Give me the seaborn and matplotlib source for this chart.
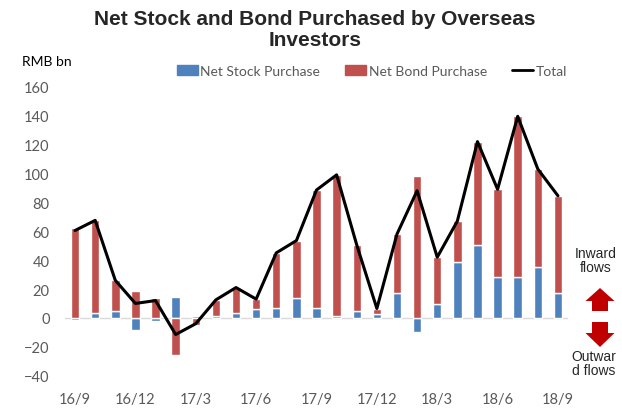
import numpy as np
import pandas as pd
import matplotlib.pyplot as plt
import seaborn as sns
from matplotlib.patches import Patch, Polygon
from matplotlib.lines import Line2D

# Monthly data, 16/9 to 18/9 (RMB bn)
months = ["16/9", "16/10", "16/11", "16/12", "17/1", "17/2", "17/3", "17/4", "17/5",
          "17/6", "17/7", "17/8", "17/9", "17/10", "17/11", "17/12", "18/1", "18/2",
          "18/3", "18/4", "18/5", "18/6", "18/7", "18/8", "18/9"]
tick_labels = ["16/9", "16/12", "17/3", "17/6", "17/9", "17/12", "18/3", "18/6", "18/9"]
stock = [-1.5, 3.5, 5, -8.5, -2, 14.5, 1, 1, 3.7, 6.5, 7, 13.5, 7, 1, 4.5, 3,
         17.5, -10, 9.5, 38.5, 50.5, 28.5, 28.5, 35.5, 17.5]
bond = [62, 64, 21.5, 18.5, 14, -26, -5, 11.5, 17, 6.5, 38, 40, 81.5, 98, 46, 3.5,
        40.5, 98, 32.5, 28.5, 71.5, 60.5, 111, 67.5, 67]
total = [60.5, 67.5, 26, 10, 12, -11.5, -4, 12.5, 21, 13, 45, 53.5, 88.5, 99, 50.5,
         6.5, 58, 88, 42, 67, 122, 89, 139.5, 103, 84.5]

BLUE = "#4F81BD"
RED = "#C0504D"
TICK_GRAY = "#595959"

sns.set_theme(style="white")
plt.rcParams["font.family"] = ["Lato", "DejaVu Sans"]

df = pd.DataFrame({"month": months, "stock": stock, "bond": bond, "total": total})
# Excel-style stacking: bond sits on the stock bar only when both share a sign
df["bond_base"] = np.where(np.sign(df["stock"]) == np.sign(df["bond"]), df["stock"], 0)

fig = plt.figure(figsize=(6.22, 4.10), dpi=100)
ax = fig.add_axes([0.1045, 0.0812, 0.8087, 0.7049])

ax.axhline(0, color="#D9D9D9", lw=1, zorder=0.5)
sns.barplot(data=df, x="month", y="stock", color=BLUE, width=0.42, saturation=1,
            errorbar=None, ax=ax)
sns.barplot(data=df, x="month", y="bond", color=RED, width=0.42, saturation=1,
            errorbar=None, bottom=df["bond_base"].values, ax=ax)
sns.pointplot(data=df, x="month", y="total", color="black", markers="", linestyles="-",
              errorbar=None, ax=ax)
for line in ax.lines[1:]:
    line.set_linewidth(2.2)

ax.set_xlim(-0.5, 24.5)
ax.set_ylim(-40, 160)
ax.set_yticks(np.arange(-40, 161, 20))
ax.set_xticks(np.arange(0, len(months), 3))
ax.set_xticklabels(tick_labels)
ax.set_xlabel("")
ax.set_ylabel("")
ax.tick_params(axis="y", length=0, labelsize=10.5, labelcolor=TICK_GRAY, pad=11)
ax.tick_params(axis="x", length=0, labelsize=10.5, labelcolor=TICK_GRAY, pad=12)
sns.despine(ax=ax, left=True, bottom=True)

# Title and unit label
fig.text(0.506, 0.975, "Net Stock and Bond Purchased by Overseas\nInvestors",
         ha="center", va="top", fontsize=15, fontweight="bold",
         family="Liberation Sans", linespacing=1.15)
fig.text(22 / 622, 1 - 62 / 410, "RMB bn", ha="left", va="center", fontsize=10,
         color="black")

# Legend
handles = [Patch(color=BLUE), Patch(color=RED), Line2D([], [], color="black", lw=2)]
fig.legend(handles, ["Net Stock Purchase", "Net Bond Purchase", "Total"],
           loc="center", bbox_to_anchor=(0.598, 0.824), ncol=3, frameon=False,
           fontsize=10, handlelength=1.5, handletextpad=0.2, columnspacing=1.8,
           labelcolor=TICK_GRAY)

# Inward / outward flow annotation on the right
ov = fig.add_axes([0, 0, 1, 1])
ov.set_xlim(0, 622)
ov.set_ylim(410, 0)
ov.axis("off")
ov.patch.set_alpha(0)
cx = 600
up = [(cx, 289), (cx + 14.5, 302), (cx + 8, 302), (cx + 8, 312), (cx - 8, 312),
      (cx - 8, 302), (cx - 14.5, 302)]
down = [(cx - 8, 323), (cx + 8, 323), (cx + 8, 334), (cx + 14.5, 334), (cx, 348),
        (cx - 14.5, 334), (cx - 8, 334)]
ov.add_patch(Polygon(up, closed=True, color="#C00000", lw=0))
ov.add_patch(Polygon(down, closed=True, color="#C00000", lw=0))
ov.text(596, 261, "Inward\nflows", ha="center", va="center", fontsize=10,
        family="Liberation Sans", linespacing=1.0)
ov.text(594, 364, "Outwar\nd flows", ha="center", va="center", fontsize=10,
        family="Liberation Sans", linespacing=1.0)

fig.savefig("out.png", dpi=100)
